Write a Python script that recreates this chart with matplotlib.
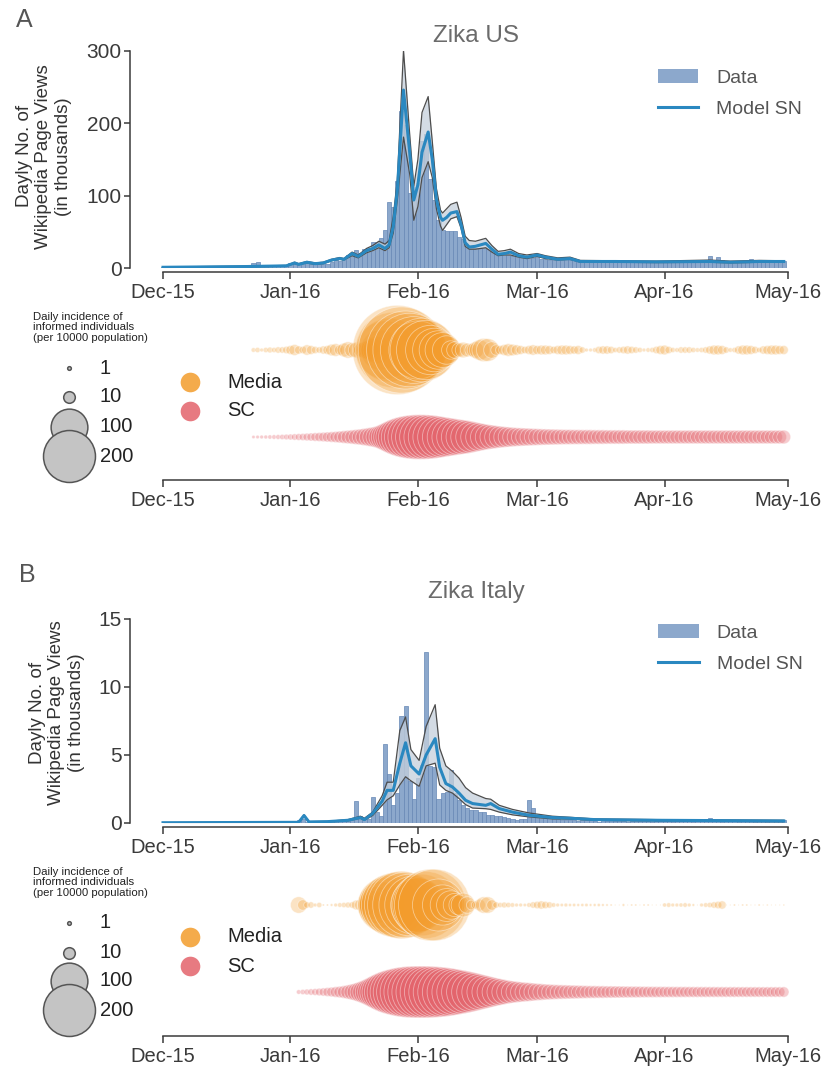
import numpy as np
import matplotlib.pyplot as plt
import matplotlib.dates as mdates
from matplotlib.patches import Patch
from matplotlib.lines import Line2D
from datetime import datetime

plt.rcParams['font.family'] = ['Liberation Sans', 'DejaVu Sans']

# ---------------------------------------------------------------
# data (day 0 = 1 Dec 2015, daily values)
# ---------------------------------------------------------------
# Zika US - wikipedia page views (thousands)
us_views = [2, 1.5, 1.5, 2, 1.5, 1.5, 1.5, 2, 1.5, 1.5, 1.5, 1.5, 1.5, 1.5, 1.5, 1.5, 2, 1.5, 1.5, 1.5, 1.5, 2,
            7, 8, 2, 2, 3, 3, 3, 4, 4,
            7, 6, 5, 8, 7, 5, 5, 5, 5, 6,
            8, 11, 9, 11, 18, 20, 25, 21, 26, 27,
            36, 36, 41, 52, 91, 85, 120, 217, 198, 104,
            112, 117, 175, 185, 123, 94, 66, 52, 51, 51,
            51, 43, 40, 29, 28, 28, 28, 27, 26, 25,
            20, 19, 19, 18, 17, 16, 16, 15, 16, 14,
            16, 13, 12, 11, 12, 11, 11, 12, 11, 11,
            10, 9, 9, 10, 9, 9, 8, 9, 9, 9,
            9, 8, 9, 9, 9, 8, 9, 9, 8, 9,
            9, 9, 8, 9, 9, 9, 8, 9, 9, 10,
            10, 9, 16, 10, 15, 11, 10, 9, 9, 10,
            9, 10, 12, 9, 10, 9, 11, 9, 9, 10, 9]

# model SN (mean and band), knots in days
us_kday = [0, 10, 20, 25, 30, 32, 33, 35, 37, 39, 41, 43, 44, 46, 47.5, 49.5, 51, 52.5, 54, 55, 56, 57,
           58.5, 60, 61, 62, 63, 64.5, 65.5, 66.5, 67.5, 68, 69, 70, 71.5, 72.5, 73.5, 74.5, 76, 78.5,
           80, 81.5, 83, 84.5, 86.5, 88.5, 91, 93, 96, 99, 101.5, 110, 120, 133, 138, 145, 151]
us_mid = [1, 1.5, 2, 2.5, 3, 7, 5, 8, 6, 7, 11, 13, 12, 20, 16, 24, 27, 32, 27, 32, 57, 108,
          246, 160, 94, 115, 160, 188, 150, 95, 70, 66, 70, 76, 78, 60, 35, 29, 30, 34,
          26, 19, 20, 22, 17, 15, 18, 15, 12, 13, 9, 9, 8.5, 9, 8, 9, 9]
us_lo = [0.5, 1, 1.5, 2, 2.5, 6, 4.5, 7, 5, 6, 10, 12, 11, 17, 14, 21, 24, 28, 24, 28, 48, 94,
         181, 130, 66, 85, 125, 147, 125, 82, 58, 52, 60, 68, 71, 55, 30, 26, 26, 28,
         22, 17, 18, 18, 15, 13, 16, 13, 11, 12, 8, 8, 7.5, 8, 7, 8, 8]
us_hi = [1.5, 2, 2.5, 3, 3.5, 8, 6, 9, 7, 8, 12, 14.5, 13, 22, 18, 27, 31, 37, 33, 38, 71, 122,
         301, 185, 113, 150, 215, 237, 175, 110, 80, 76, 82, 88, 91, 70, 44, 38, 37, 41,
         31, 23, 24, 26, 20, 18, 20, 17, 14, 15, 10.5, 10, 9.5, 11, 9.5, 10.5, 10]

# daily incidence of informed individuals (per 10000), from day 22
us_bub_start = 22
us_media = [1.5, 2, 1, 2, 2.5, 2, 3, 3, 4,
            6, 9, 5, 4, 8, 6, 4, 3, 5, 6,
            10, 12, 8, 14, 20, 16, 18, 14, 20, 28,
            40, 55, 120, 250, 300, 420, 590, 550, 450, 400,
            330, 250, 300, 260, 180, 140, 110, 90, 60, 25,
            20, 15, 18, 14, 12, 20, 30, 40, 38, 20,
            8, 6, 9, 12, 10, 8, 6, 4, 6, 8,
            6, 7, 7, 6, 4, 6, 7, 7, 6, 5,
            6, 3, 1, 1, 1.5, 4, 5, 5, 4, 2,
            3, 4, 5, 4, 3, 2, 1, 1.5, 2, 4,
            6, 7, 4, 2, 1.5, 3, 3, 3, 2, 1.5,
            2, 3, 5, 7, 7, 6, 3, 1.5, 2, 5,
            7, 7, 6, 4, 2, 5, 6, 7, 7, 6, 6]
us_sc = [0.8, 0.9, 1, 1.1, 1.3, 1.5, 1.7, 2, 2.3,
         2.6, 3, 3.4, 3.8, 4.3, 4.8, 5.4, 6, 6.7, 7.5,
         8.3, 9.3, 10.5, 12, 13.5, 15, 17, 19, 22, 25,
         29, 34, 42, 55, 70, 88, 105, 120, 132, 140,
         146, 148, 148, 146, 142, 136, 128, 120, 112, 105,
         98, 92, 86, 80, 72, 64, 57, 51, 46, 42,
         38, 35, 32, 30, 28, 26, 25, 24, 23, 22,
         21, 20, 19.5, 19, 18.5, 18, 17.5, 17, 17, 16.5,
         16.5, 16, 16, 16, 15.5, 15.5, 15.5, 15, 15, 15,
         15, 15, 14.5, 14.5, 14.5, 14.5, 14.5, 14.5, 14, 14,
         14, 14, 14, 14, 14, 14, 14, 14, 14, 14,
         14, 14, 14, 14, 14, 14, 14, 14, 14, 14,
         14, 14, 14, 14, 14, 14, 14, 14, 14, 14, 14]

# Zika Italy
it_views = [0.03, 0.03, 0.02, 0.03, 0.03, 0.02, 0.03, 0.03, 0.03, 0.02, 0.03, 0.03, 0.02, 0.03, 0.03,
            0.03, 0.02, 0.03, 0.03, 0.02, 0.03, 0.03, 0.03, 0.02, 0.03, 0.03, 0.02, 0.03, 0.03, 0.03, 0.03,
            0.05, 0.1, 0.2, 0.3, 0.1, 0.1, 0.1, 0.1, 0.15, 0.15, 0.2, 0.2, 0.15, 0.2, 0.25, 0.3,
            1.6, 0.5, 0.4, 0.3, 1.9, 0.8, 0.5, 5.8, 3.6, 1.3, 2.2, 7.9, 8.6, 3.1, 1.8, 3.3, 4.3, 12.6,
            4.2, 4.1, 1.8, 2.2, 2.3, 3.9, 2.2, 1.7, 1.3, 1.1, 0.95, 0.95, 0.8, 0.8, 0.6, 0.6,
            0.5, 0.5, 0.45, 0.4, 0.3, 0.2, 0.3, 0.3, 1.7, 1.1, 0.6, 0.5, 0.45, 0.35, 0.3,
            0.3, 0.25, 0.2, 0.2, 0.25, 0.15, 0.2, 0.2, 0.25, 0.15,
            0.1, 0.2, 0.15, 0.2, 0.15, 0.2, 0.15, 0.1, 0.15, 0.2,
            0.15, 0.2, 0.15, 0.1, 0.15, 0.2, 0.15, 0.15, 0.1, 0.2,
            0.15, 0.2, 0.15, 0.1, 0.15, 0.2, 0.3, 0.4, 0.2, 0.15,
            0.1, 0.15, 0.2, 0.15, 0.1, 0.15, 0.2, 0.15, 0.1, 0.15,
            0.2, 0.1, 0.15, 0.2, 0.15, 0.2]

it_kday = [0, 33, 34.3, 35.5, 40, 45, 48, 49, 51, 53.3, 54.5, 56, 57.6, 59, 60.3, 62.3, 64, 66.2,
           67.3, 68.8, 70.4, 72, 73.6, 75.3, 78.5, 79.7, 81.8, 85, 89, 94.7, 99, 105, 120, 151]
it_mid = [0.02, 0.05, 0.55, 0.08, 0.1, 0.2, 0.4, 0.25, 0.7, 1.6, 2.4, 2.4, 4.4, 5.9, 4.2, 3.6, 5.0, 6.2,
          4.1, 2.9, 2.65, 2.2, 1.67, 1.43, 1.3, 1.43, 1.06, 0.8, 0.57, 0.4, 0.35, 0.25, 0.2, 0.15]
it_lo = [0.01, 0.03, 0.5, 0.06, 0.08, 0.15, 0.35, 0.2, 0.55, 1.3, 1.7, 2.0, 2.8, 3.4, 3.1, 2.7, 4.2, 4.4,
         2.8, 2.4, 2.2, 1.8, 1.35, 1.1, 1.05, 1.0, 0.8, 0.6, 0.45, 0.3, 0.28, 0.2, 0.15, 0.1]
it_hi = [0.03, 0.07, 0.6, 0.1, 0.12, 0.25, 0.5, 0.35, 0.8, 2.0, 3.0, 3.0, 6.8, 7.8, 5.4, 4.6, 7.1, 8.7,
         5.5, 4.2, 3.8, 3.3, 2.6, 2.2, 1.8, 1.75, 1.3, 1.0, 0.74, 0.5, 0.42, 0.3, 0.25, 0.2]

it_bub_start = 33
it_media = [20, 8, 3, 3, 1, 2, 0.3, 0.3, 0.5, 1,
            1.5, 2, 2.5, 3, 7, 10, 14, 30, 60, 100,
            160, 220, 260, 300, 320, 340, 320, 280, 250, 220,
            280, 330, 380, 380, 200, 120, 80, 60, 40, 30,
            42, 20, 7, 5, 10, 20, 20, 8, 3, 2,
            2.5, 2, 1.5, 1, 1, 0.8, 1.5, 3, 4, 5,
            4, 3, 1.5, 1, 0.8, 1, 0.7, 0.8, 0.6, 0.7,
            0.8, 0.5, 0.6, 0.7, 0.5, 0.4, 0.3, 0.1, 0.1, 0.5,
            0.1, 0.3, 0.3, 0.1, 0.3, 0.3, 0.1, 0.1, 0.1, 1.2,
            1.5, 1, 1, 1.2, 1.5, 1, 0.5, 0.1, 1, 1.5,
            2, 3, 4, 5, 0.1, 0.1, 0.3, 0.1, 0.3, 0.3,
            0.1, 0.1, 0.3, 0.1, 0.2, 0.1, 0.1, 0.1, 0.2]
it_sc = [1.5, 2, 2.5, 3, 3.5, 4.2, 5, 6, 7, 8.5,
         10, 12, 15, 19, 24, 31, 40, 52, 67, 85,
         105, 125, 143, 158, 172, 183, 191, 196, 199, 200,
         200, 199, 197, 193, 188, 182, 175, 166, 156, 146,
         137, 126, 115, 104, 93, 83, 74, 65, 57, 51,
         45, 40, 36, 33, 30, 28, 26, 24, 22, 20.5,
         19, 18, 17, 16, 15.5, 15, 14.5, 14, 13.5, 13,
         12.5, 12, 12, 11.5, 11.5, 11, 11, 10.8, 10.6, 10.4,
         10.2, 10, 10, 9.8, 9.6, 9.5, 9.4, 9.3, 9.2, 9.1,
         9, 9, 8.9, 8.8, 8.8, 8.7, 8.6, 8.6, 8.5, 8.5,
         8.4, 8.4, 8.3, 8.3, 8.2, 8.2, 8.2, 8.1, 8.1, 8.1,
         8, 8, 8, 8, 8, 8, 8, 8, 8]

legend_sizes = [1, 10, 100, 200]

# ---------------------------------------------------------------
# styles
# ---------------------------------------------------------------
W, H = 824, 1070
bar_face = (0.55, 0.66, 0.80)
bar_edge = (0.40, 0.53, 0.71)
line_blue = '#2a88c0'
band_fill = '#c5d0db'
band_edge = '#4d4d4d'
media_col = (0.953, 0.612, 0.169)
sc_col = (0.890, 0.388, 0.420)
axis_col = '#3a3a3a'
size_scale = 7.0   # marker area (pt^2) per 1 informed / 10000

t0 = mdates.date2num(datetime(2015, 12, 1))
t_end = mdates.date2num(datetime(2016, 5, 1))

fig = plt.figure(figsize=(W / 100, H / 100), dpi=100)


def px_axes(x0, y0, x1, y1):
    return fig.add_axes([x0 / W, 1 - y1 / H, (x1 - x0) / W, (y1 - y0) / H])


def style_time_axis(ax):
    ax.set_xlim(t0 - 8.03, t0 + 153.0)
    ax.xaxis.set_major_locator(mdates.MonthLocator())
    ax.xaxis.set_major_formatter(mdates.DateFormatter('%b-%y'))
    ax.spines['bottom'].set_bounds(t0, t_end)
    ax.spines['top'].set_visible(False)
    ax.spines['right'].set_visible(False)
    for sp in ax.spines.values():
        sp.set_color(axis_col)
        sp.set_linewidth(1.1)
    ax.tick_params(axis='x', direction='out', length=5, width=1.1, color=axis_col,
                   labelcolor='#3a3a3a', labelsize=14.5, pad=3)


def draw_views(ax, views, kday, mid, lo, hi, ymax, yticks):
    x = t0 + np.arange(len(views))
    ax.bar(x, views, width=1.0, color=bar_face, edgecolor=bar_edge, linewidth=0.5, zorder=1)
    xk = t0 + np.array(kday)
    ax.fill_between(xk, lo, hi, color=band_fill, alpha=0.75, lw=0, zorder=2)
    ax.plot(xk, lo, color=band_edge, lw=0.9, zorder=3)
    ax.plot(xk, hi, color=band_edge, lw=0.9, zorder=3)
    ax.plot(xk, mid, color=line_blue, lw=2.2, zorder=4)
    style_time_axis(ax)
    ax.set_ylim(0, ymax)
    ax.set_yticks(yticks)
    ax.spines['left'].set_bounds(0, ymax)
    ax.spines['bottom'].set_position(('outward', 3))
    ax.tick_params(axis='y', direction='out', length=4, width=1.1, color=axis_col,
                   labelcolor='#3a3a3a', labelsize=15, pad=2)
    ax.set_ylabel('Dayly No. of\nWikipedia Page Views\n(in thousands)', fontsize=13.5,
                  color='#333333', linespacing=1.2)
    ax.legend(handles=[Patch(facecolor=bar_face, edgecolor='none', label='Data'),
                       Line2D([], [], color=line_blue, lw=2.2, label='Model SN')],
              loc='upper left', frameon=False, fontsize=14, handlelength=2.1,
              handletextpad=0.9, labelspacing=0.7, borderpad=0, borderaxespad=0,
              labelcolor='#555555')


def draw_bubbles(ax, start, media, sc):
    xm = t0 + start + np.arange(len(media))
    xs = t0 + start + np.arange(len(sc))
    ax.scatter(xs, np.zeros(len(sc)), s=size_scale * np.array(sc),
               facecolors=[sc_col + (0.32,)], edgecolors=[(1, 1, 1, 0.45)],
               linewidths=0.6, clip_on=False, zorder=2)
    ax.scatter(xm, np.ones(len(media)), s=size_scale * np.array(media),
               facecolors=[media_col + (0.28,)], edgecolors=[(1, 1, 1, 0.45)],
               linewidths=0.6, clip_on=False, zorder=3)
    style_time_axis(ax)
    ax.spines['left'].set_visible(False)
    ax.set_yticks([])
    ax.patch.set_alpha(0)


# panel A: Zika US
ax_us = px_axes(130, 51, 792, 268)
draw_views(ax_us, us_views, us_kday, us_mid, us_lo, us_hi, 300, [0, 100, 200, 300])
ax_us.yaxis.set_label_coords(-0.088, 0.515)
ax_us.get_legend().set_bbox_to_anchor((0.797, 0.915))

ax_usb = px_axes(130, 300, 792, 480)
ax_usb.set_ylim(-(480 - 437) / 87, 1 + (350 - 300) / 87)
draw_bubbles(ax_usb, us_bub_start, us_media, us_sc)

# panel B: Zika Italy
ax_it = px_axes(130, 619, 792, 823)
draw_views(ax_it, it_views, it_kday, it_mid, it_lo, it_hi, 15, [0, 5, 10, 15])
ax_it.yaxis.set_label_coords(-0.068, 0.54)
ax_it.get_legend().set_bbox_to_anchor((0.798, 0.975))

ax_itb = px_axes(130, 860, 792, 1036)
ax_itb.set_ylim(-(1036 - 992) / 87, 1 + (905 - 860) / 87)
draw_bubbles(ax_itb, it_bub_start, it_media, it_sc)

# titles, panel letters, size / colour legends on a pixel overlay
ov = fig.add_axes([0, 0, 1, 1], zorder=10)
ov.set_xlim(0, W)
ov.set_ylim(H, 0)
ov.axis('off')

for title, ty in [('Zika US', 36), ('Zika Italy', 592)]:
    ov.text(476, ty, title, fontsize=17.5, color='#6b6b6b', ha='center', va='center')
for letter, lx, ly in [('A', 16, 20), ('B', 19, 575)]:
    ov.text(lx, ly, letter, fontsize=18, color='#555555', ha='left', va='center')

for top, circ_y, col_y in [(312, [368, 397, 427, 456], [382, 411]),
                           (867, [923, 953, 981, 1010], [937, 966])]:
    ov.text(33, top, 'Daily incidence of\ninformed individuals\n(per 10000 population)',
            fontsize=8.2, color='#222222', ha='left', va='top', linespacing=1.05)
    for v, cy in zip(legend_sizes, circ_y):
        ov.scatter([69], [cy], s=size_scale * v, facecolor='#c4c4c4', edgecolor='#555555',
                   linewidth=1.1, zorder=3)
        ov.text(100, cy, str(v), fontsize=14.5, color='#222222', ha='left', va='center')
    ov.scatter([190], [col_y[0]], s=200, color=media_col, alpha=0.85, lw=0)
    ov.scatter([190], [col_y[1]], s=200, color=sc_col, alpha=0.85, lw=0)
    ov.text(227, col_y[0], 'Media', fontsize=14.5, color='#222222', ha='left', va='center')
    ov.text(227, col_y[1], 'SC', fontsize=14.5, color='#222222', ha='left', va='center')

fig.savefig('out.png', dpi=100)
